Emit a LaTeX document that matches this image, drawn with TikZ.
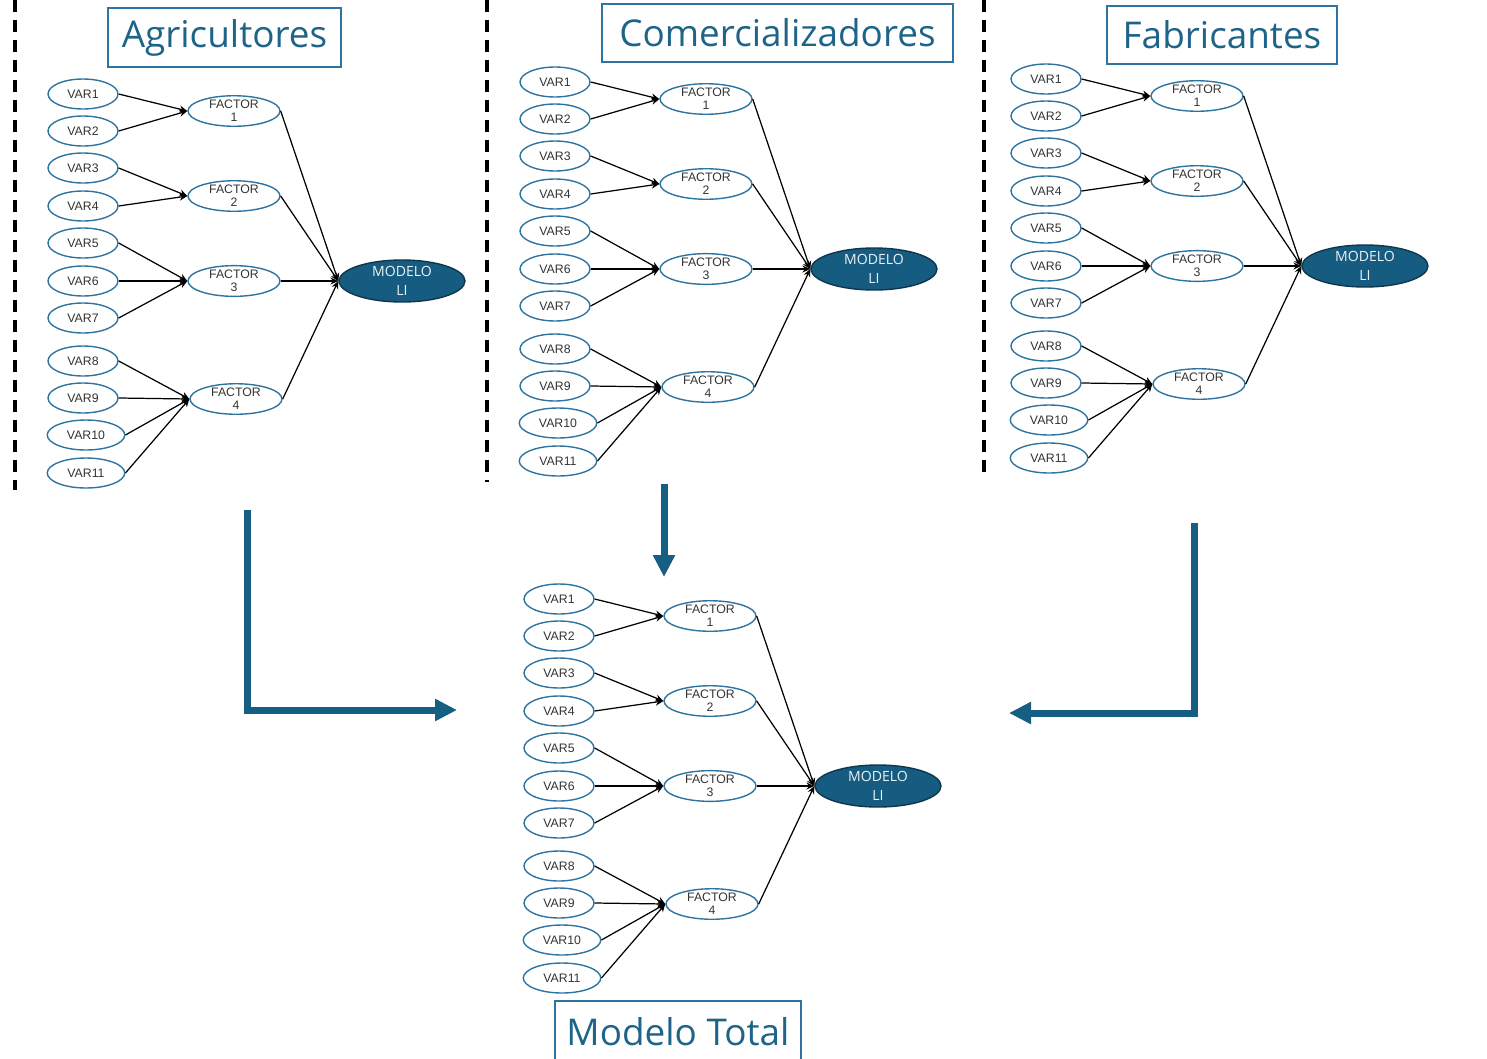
\documentclass[tikz,border=0pt]{standalone}
\usepackage{fontspec}
\setmainfont{Liberation Sans}
\newfontfamily\titlefont{Open Sans}
\usetikzlibrary{shapes.geometric,arrows.meta}

\definecolor{nodeblue}{HTML}{2F74A0}
\definecolor{modelblue}{HTML}{165C80}
\definecolor{titleblue}{HTML}{1E6489}
\definecolor{arrowblue}{HTML}{175E83}

\tikzset{
  var/.style={shape=ellipse,draw=nodeblue,line width=0.8pt,inner sep=0pt,minimum width=1.4cm,minimum height=0.6cm,font=\fontsize{7}{7.4}\selectfont,text=black!80},
  varwide/.style={var,minimum width=1.55cm},
  factor/.style={shape=ellipse,draw=nodeblue,line width=0.8pt,inner sep=0pt,minimum width=1.84cm,minimum height=0.6cm,align=center,font=\fontsize{7}{7.4}\selectfont,text=black!80},
  modelo/.style={shape=ellipse,draw=modelblue!60!black,fill=modelblue,line width=0.8pt,inner sep=0pt,minimum width=2.52cm,minimum height=0.84cm,align=center,text=white!90!nodeblue,font=\titlefont\fontsize{8}{10.8}\selectfont},
  link/.style={-{Stealth[length=4.5pt,width=4pt]},draw=black,line width=0.7pt},
  titlebox/.style={draw=nodeblue,line width=0.8pt,inner sep=0pt,text=titleblue,font=\titlefont\fontsize{21}{24}\selectfont},
  bigarrow/.style={draw=arrowblue,line width=0.14cm,-{Triangle[length=0.44cm,width=0.42cm]}},
  divider/.style={draw=black,line width=0.08cm,dash pattern=on 0.24cm off 0.16cm}
}

% one block: prefix, x shift, y shift (pixels)
\newcommand{\semblock}[3]{%
\begin{scope}[shift={(#2,#3)}]
\node[var] (#1v1) at (83,94) {VAR1};
\node[var] (#1v2) at (83,131) {VAR2};
\node[var] (#1v3) at (83,168) {VAR3};
\node[var] (#1v4) at (83,206) {VAR4};
\node[var] (#1v5) at (83,243) {VAR5};
\node[var] (#1v6) at (83,281) {VAR6};
\node[var] (#1v7) at (83,318) {VAR7};
\node[var] (#1v8) at (83,361) {VAR8};
\node[var] (#1v9) at (83,398) {VAR9};
\node[varwide] (#1v10) at (86,435) {VAR10};
\node[varwide] (#1v11) at (86,473) {VAR11};
\node[factor] (#1f1) at (234,111) {FACTOR\\1};
\node[factor] (#1f2) at (234,196) {FACTOR\\2};
\node[factor] (#1f3) at (234,281) {FACTOR\\3};
\node[factor] (#1f4) at (236,399) {FACTOR\\4};
\node[modelo] (#1m) at (402,281) {MODELO\\LI};

\path (#1v1.east) edge[link] (#1f1.west);
\path (#1v2.east) edge[link] (#1f1.west);
\path (#1v3.east) edge[link] (#1f2.west);
\path (#1v4.east) edge[link] (#1f2.west);
\path (#1v5.east) edge[link] (#1f3.west);
\path (#1v6.east) edge[link] (#1f3.west);
\path (#1v7.east) edge[link] (#1f3.west);
\path (#1v8.east) edge[link] (#1f4.west);
\path (#1v9.east) edge[link] (#1f4.west);
\path (#1v10.east) edge[link] (#1f4.west);
\path (#1v11.east) edge[link] (#1f4.west);
\path (#1f1.east) edge[link] (#1m.west);
\path (#1f2.east) edge[link] (#1m.west);
\path (#1f3.east) edge[link] (#1m.west);
\path (#1f4.east) edge[link] (#1m.west);
\end{scope}}

\begin{document}
\begin{tikzpicture}[x=0.02cm,y=-0.02cm]
\useasboundingbox (0,0) rectangle (1487,1058);

% dividers between the three groups
\draw[divider] (15,0) -- (15,490);
\draw[divider] (487,0) -- (487,482);
\draw[divider] (984,0) -- (984,472);

% titles
\node[titlebox,minimum width=4.66cm,minimum height=1.18cm] (agr) at (224.5,37.5) {Agricultores};
\node[titlebox,minimum width=7.02cm,minimum height=1.16cm] (com) at (777.5,33) {Comercializadores};
\node[titlebox,minimum width=4.6cm,minimum height=1.16cm] (fab) at (1222,35) {Fabricantes};
\node[titlebox,minimum width=4.92cm,minimum height=1.24cm] (tot) at (678,1032) {Modelo Total};

% the four models
\semblock{a}{0}{0}
\semblock{c}{472}{-12}
\semblock{f}{963}{-15}
\semblock{t}{476}{505}

% arrows into the total model
\coordinate (agrout) at (247,510);
\coordinate (agrin) at (457,710);
\coordinate (comout) at (664,484);
\coordinate (comin) at (664,577);
\coordinate (fabout) at (1194,523);
\coordinate (fabin) at (1009,713);
\draw[bigarrow] (agrout) |- (agrin);
\draw[bigarrow] (comout) -- (comin);
\draw[bigarrow] (fabout) |- (fabin);
\end{tikzpicture}
\end{document}
